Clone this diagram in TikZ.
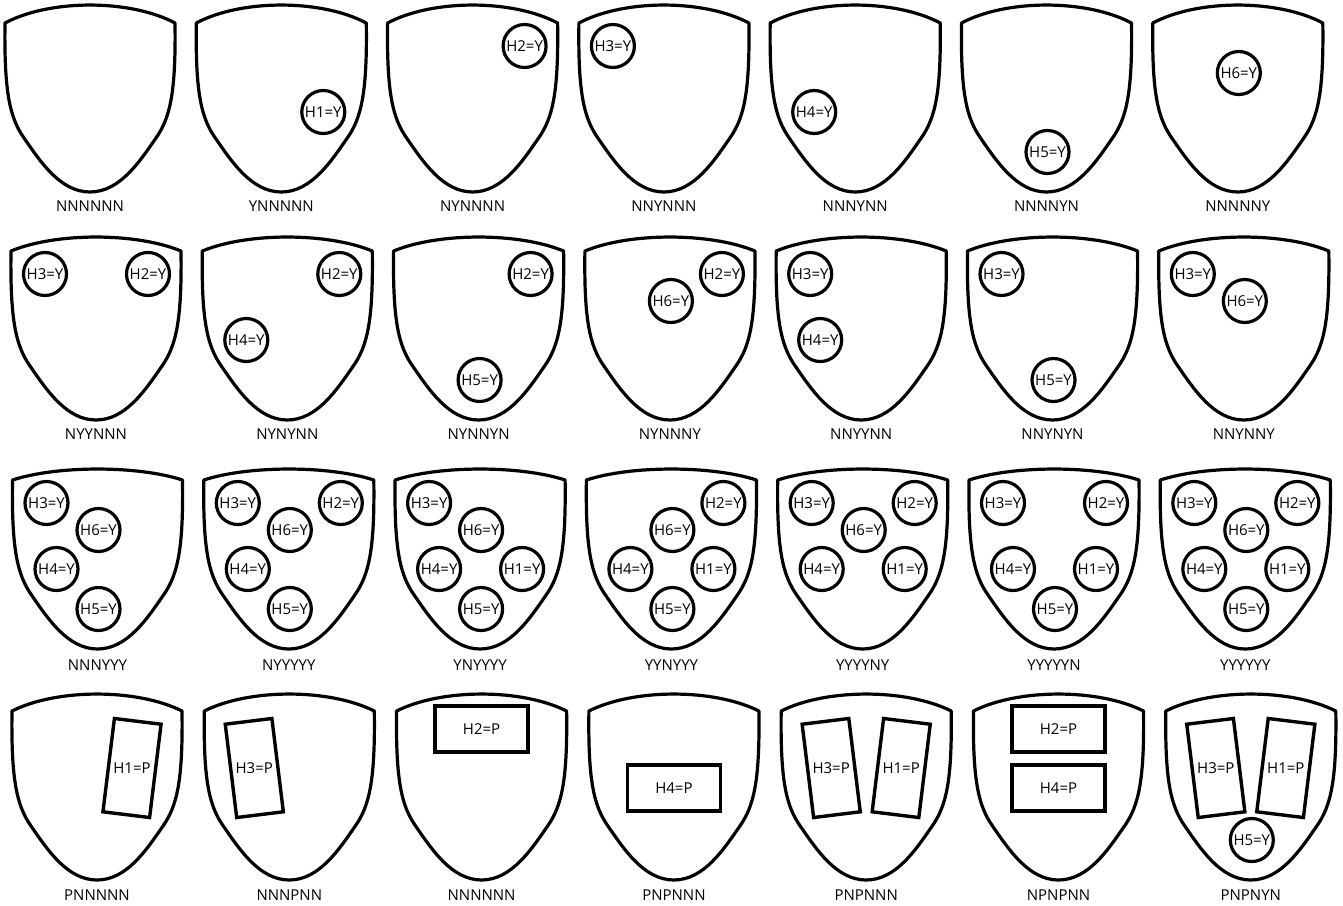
\documentclass[tikz,border=0pt]{standalone}
\usepackage{fontspec}
\setmainfont{Open Sans}

\tikzset{
  % hole spots inside a shield, measured from the top centre
  spot1/.style={shift={(42,89)}},
  spot2/.style={shift={(52,23)}},
  spot3/.style={shift={(-51,23)}},
  spot4/.style={shift={(-41,89)}},
  spot5/.style={shift={(1,129)}},
  spot6/.style={shift={(1,50)}},
  spotv1/.style={shift={(35,57)}},
  spotv3/.style={shift={(-35,57)}},
  spoth2/.style={shift={(0,18)}},
  spoth4/.style={shift={(0,77)}},
  pics/shield/.style={code={
    \draw[outline] (-85,0) .. controls (-40,{-1.33*#1}) and (40,{-1.33*#1}) .. (85,0)
      .. controls (86,70) and (80,95) .. (66,115)
      .. controls (50,138) and (30,169) .. (0,169)
      .. controls (-30,169) and (-50,138) .. (-66,115)
      .. controls (-80,95) and (-86,70) .. (-85,0) -- cycle;
  }}
}

\begin{document}
\begin{tikzpicture}[x=1pt, y=-1pt, font=\fontsize{15}{18}\selectfont,
  outline/.style={line width=3.2pt, line join=round},
  hole/.style={circle, draw, line width=3.2pt, minimum size=43pt, inner sep=0pt},
  plugh/.style={draw, line width=3.4pt, minimum width=93pt, minimum height=46pt, inner sep=0pt},
  plugv/.style={draw, line width=3.4pt, minimum width=47pt, minimum height=94pt, inner sep=0pt}]

\useasboundingbox (0,0) rectangle (1343,905);

% Row 1: one hole each
\foreach \code [count=\k from 0] in {NNNNNN,YNNNNN,NYNNNN,NNYNNN,NNNYNN,NNNNYN,NNNNNY} {
  \coordinate (s1\k) at ({90+191.3*\k},23);
  \pic at (s1\k) {shield=18};
  \node (c1\k) at ([shift={(0,183)}]s1\k) {\code};
}
\foreach \s/\h in {s11/1, s12/2, s13/3, s14/4, s15/5, s16/6}
  \node[hole] (\s h\h) at ([spot\h]\s) {H\h=Y};

% Row 2: two holes
\foreach \code [count=\k from 0] in {NYYNNN,NYNYNN,NYNNYN,NYNNNY,NNYYNN,NNYNYN,NNYNNY} {
  \coordinate (s2\k) at ({96+191.3*\k},251);
  \pic at (s2\k) {shield=14};
  \node (c2\k) at ([shift={(0,183)}]s2\k) {\code};
}
\foreach \s/\holes in {s20/{3,2}, s21/{2,4}, s22/{2,5}, s23/{2,6}, s24/{3,4}, s25/{3,5}, s26/{3,6}}
  \foreach \h in \holes
    \node[hole] (\s h\h) at ([spot\h]\s) {H\h=Y};

% Row 3: four to six holes
\foreach \code [count=\k from 0] in {NNNYYY,NYYYYY,YNYYYY,YYNYYY,YYYYNY,YYYYYN,YYYYYY} {
  \coordinate (s3\k) at ({97.5+191.3*\k},480);
  \pic at (s3\k) {shield=11};
  \node (c3\k) at ([shift={(0,185)}]s3\k) {\code};
}
\foreach \s/\holes in {s30/{3,6,4,5}, s31/{3,2,6,4,5}, s32/{3,6,4,1,5}, s33/{2,6,4,1,5},
                       s34/{3,2,6,4,1}, s35/{3,2,4,1,5}, s36/{1,2,3,4,5,6}}
  \foreach \h in \holes
    \node[hole] (\s h\h) at ([spot\h]\s) {H\h=Y};

% Row 4: plugged holes
\foreach \code [count=\k from 0] in {PNNNNN,NNNPNN,NNNNNN,PNPNNN,PNPNNN,NPNPNN,PNPNYN} {
  \coordinate (s4\k) at ({97+192.3*\k},711);
  \pic at (s4\k) {shield=17};
  \node (c4\k) at ([shift={(0,184)}]s4\k) {\code};
}
\foreach \s/\h/\a in {s40/1/-7, s41/3/7, s44/3/7, s44/1/-7, s46/3/7, s46/1/-7} {
  \node[plugv, rotate=\a] (\s p\h) at ([spotv\h]\s) {};
  \node (\s t\h) at (\s p\h) {H\h=P};
}
\foreach \s/\h in {s42/2, s43/4, s45/2, s45/4}
  \node[plugh] (\s p\h) at ([spoth\h]\s) {H\h=P};
\node[hole] (s46h5) at ([spot5]s46) {H5=Y};

\end{tikzpicture}
\end{document}
